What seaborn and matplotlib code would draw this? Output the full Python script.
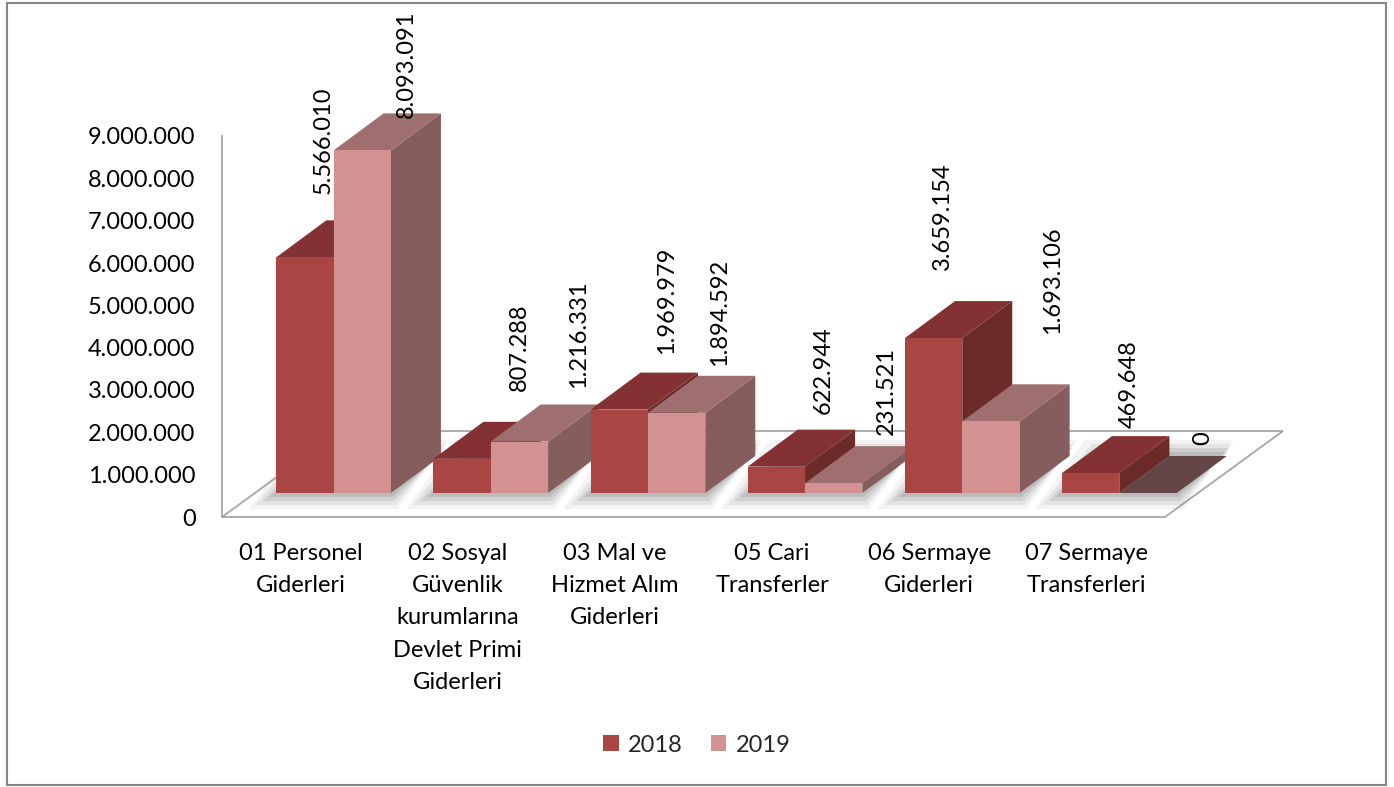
import numpy as np
import pandas as pd
import matplotlib
matplotlib.use("Agg")
import matplotlib.pyplot as plt
import seaborn as sns
from matplotlib.patches import Polygon, Rectangle, Patch
from matplotlib.ticker import FuncFormatter
from matplotlib.transforms import offset_copy

# ---------------- data ----------------
categories = [
    "01 Personel\nGiderleri",
    "02 Sosyal\nGüvenlik\nkurumlarına\nDevlet Primi\nGiderleri",
    "03 Mal ve\nHizmet Alım\nGiderleri",
    "05 Cari\nTransferler",
    "06 Sermaye\nGiderleri",
    "07 Sermaye\nTransferleri",
]
years = ["2018", "2019"]
values_2018 = [5566010, 807288, 1969979, 622944, 3659154, 469648]
values_2019 = [8093091, 1216331, 1894592, 231521, 1693106, 0]
y_ticks = [0, 1000000, 2000000, 3000000, 4000000, 5000000,
           6000000, 7000000, 8000000, 9000000]

# ---------------- style ----------------
front_colors = {"2018": "#A94543", "2019": "#D39192"}
top_colors = {"2018": "#833132", "2019": "#9E6F6E"}
side_colors = {"2018": "#6C2A29", "2019": "#855D5C"}
zero_top_color = "#654647"
grid_gray = "#A6A6A6"
# label nudges in pixels (dx right, dy up) from the front-top centre of each bar
label_nudges = {
    "2018": [(18, 63), (57, 68), (47, 56), (47, 53), (9, 68), (39, 45)],
    "2019": [(44, 32), (59, 54), (43, 47), (53, 48), (62, 87), (55, 48)],
}

sns.set_style("white")
plt.rcParams["font.family"] = ["Lato", "DejaVu Sans"]
FS = 17

W, H = 1394, 787
fig = plt.figure(figsize=(W / 100, H / 100), dpi=100)
ax = fig.add_axes([222 / W, (H - 517) / H, 943 / W, 381 / H])

df = pd.DataFrame({
    "category": categories * 2,
    "year": ["2018"] * len(categories) + ["2019"] * len(categories),
    "value": values_2018 + values_2019,
})
sns.barplot(data=df, x="category", y="value", hue="year", hue_order=years,
            palette=front_colors, width=0.73, saturation=1, errorbar=None,
            legend=False, linewidth=0, ax=ax)
ax.set_xlim(-0.5, len(categories) - 0.5)
ax.set_ylim(0, 9000000)

# pixel -> data conversion
p0 = ax.transData.transform((0, 0))
p1 = ax.transData.transform((1, 1))
sx = p1[0] - p0[0]
sy = p1[1] - p0[1]

def px(dxp, dyp):
    return dxp / sx, dyp / sy

mid_dx, mid_dy = px(33, 24)      # bars sit half-way into the floor depth
bar_dx, bar_dy = px(50, 37)      # bar depth
floor_dx, floor_dy = px(118, 86)  # floor depth

# floor
x_lo, x_hi = ax.get_xlim()
floor = Polygon([(x_lo, 0), (x_hi, 0), (x_hi + floor_dx, floor_dy),
                 (x_lo + floor_dx, floor_dy)], closed=True,
                facecolor="white", edgecolor=grid_gray, lw=1.3,
                zorder=1, clip_on=False)
ax.add_patch(floor)

# collect bars
bars = []
for year, cont in zip(years, ax.containers):
    for i, p in enumerate(cont.patches):
        bars.append((year, i, p))

# shadows under each category pair
for i in range(len(categories)):
    ps = [p for (yr, j, p) in bars if j == i]
    xl = min(p.get_x() for p in ps) + mid_dx
    xr = max(p.get_x() + p.get_width() for p in ps) + mid_dx
    yb = mid_dy
    for e, a in [(16, 0.08), (12, 0.12), (8, 0.16), (4, 0.2)]:
        exl, _ = px(e * 1.7, 0)
        exr, _ = px(e * 0.4, 0)
        _, ey = px(0, e)
        shadow = Polygon([(xl - exl, yb - ey), (xr + exr, yb - ey),
                          (xr + exr + bar_dx, yb + bar_dy + ey),
                          (xl - exl + bar_dx, yb + bar_dy + ey)],
                         closed=True, facecolor="#707070", alpha=a,
                         edgecolor="none", zorder=1.5, clip_on=False)
        ax.add_patch(shadow)

# 3D faces
order = sorted(bars, key=lambda b: b[2].get_x())
for rank, (year, i, p) in enumerate(order):
    z = 3 + rank * 0.01
    x0 = p.get_x() + mid_dx
    w = p.get_width()
    h = p.get_height()
    y0 = mid_dy
    p.set_x(x0)
    p.set_y(y0)
    p.set_zorder(z + 0.005)
    p.set_clip_on(False)
    side = Polygon([(x0 + w, y0), (x0 + w + bar_dx, y0 + bar_dy),
                    (x0 + w + bar_dx, y0 + h + bar_dy), (x0 + w, y0 + h)],
                   closed=True, facecolor=side_colors[year], edgecolor="none",
                   zorder=z, clip_on=False)
    tc = top_colors[year] if h > 0 else zero_top_color
    top = Polygon([(x0, y0 + h), (x0 + w, y0 + h),
                   (x0 + w + bar_dx, y0 + h + bar_dy), (x0 + bar_dx, y0 + h + bar_dy)],
                  closed=True, facecolor=tc, edgecolor="none",
                  zorder=z + 0.002, clip_on=False)
    ax.add_patch(side)
    ax.add_patch(top)
    # data label
    ndx, ndy = label_nudges[year][i]
    tr = offset_copy(ax.transData, fig=fig, x=ndx, y=ndy, units="dots")
    ax.text(x0 + w / 2, y0 + h, f"{int(round(h)):,}".replace(",", "."),
            transform=tr, rotation=90, ha="center", va="bottom",
            fontsize=FS, color="black", zorder=20, clip_on=False)

# axes styling
for s in ["top", "right", "bottom"]:
    ax.spines[s].set_visible(False)
ax.spines["left"].set_color(grid_gray)
ax.spines["left"].set_linewidth(1.3)
ax.set_yticks(y_ticks)
ax.yaxis.set_major_formatter(FuncFormatter(lambda v, _: f"{int(v):,}".replace(",", ".")))
ax.tick_params(axis="y", length=0, pad=19, labelsize=FS, labelcolor="black")
ax.tick_params(axis="x", length=0, pad=19, labelsize=FS, labelcolor="black")
ax.set_xticks(range(len(categories)))
ax.set_xticklabels(categories, linespacing=1.65)
ax.set_xlabel("")
ax.set_ylabel("")
ax.grid(False)

# legend
handles = [Patch(facecolor=front_colors[y], edgecolor="none") for y in years]
fig.legend(handles, years, loc="center", bbox_to_anchor=(697 / W, 1 - 745 / H),
           ncol=2, frameon=False, fontsize=FS, handlelength=0.65,
           handleheight=0.65, handletextpad=0.4, columnspacing=1.2)

# outer frame
fig.add_artist(Rectangle((7 / W, 1 - 785 / H), (1386 - 7) / W, (785 - 3) / H,
                         transform=fig.transFigure, fill=False,
                         edgecolor="#868686", lw=1.5))

fig.savefig("out.png", dpi=100)
